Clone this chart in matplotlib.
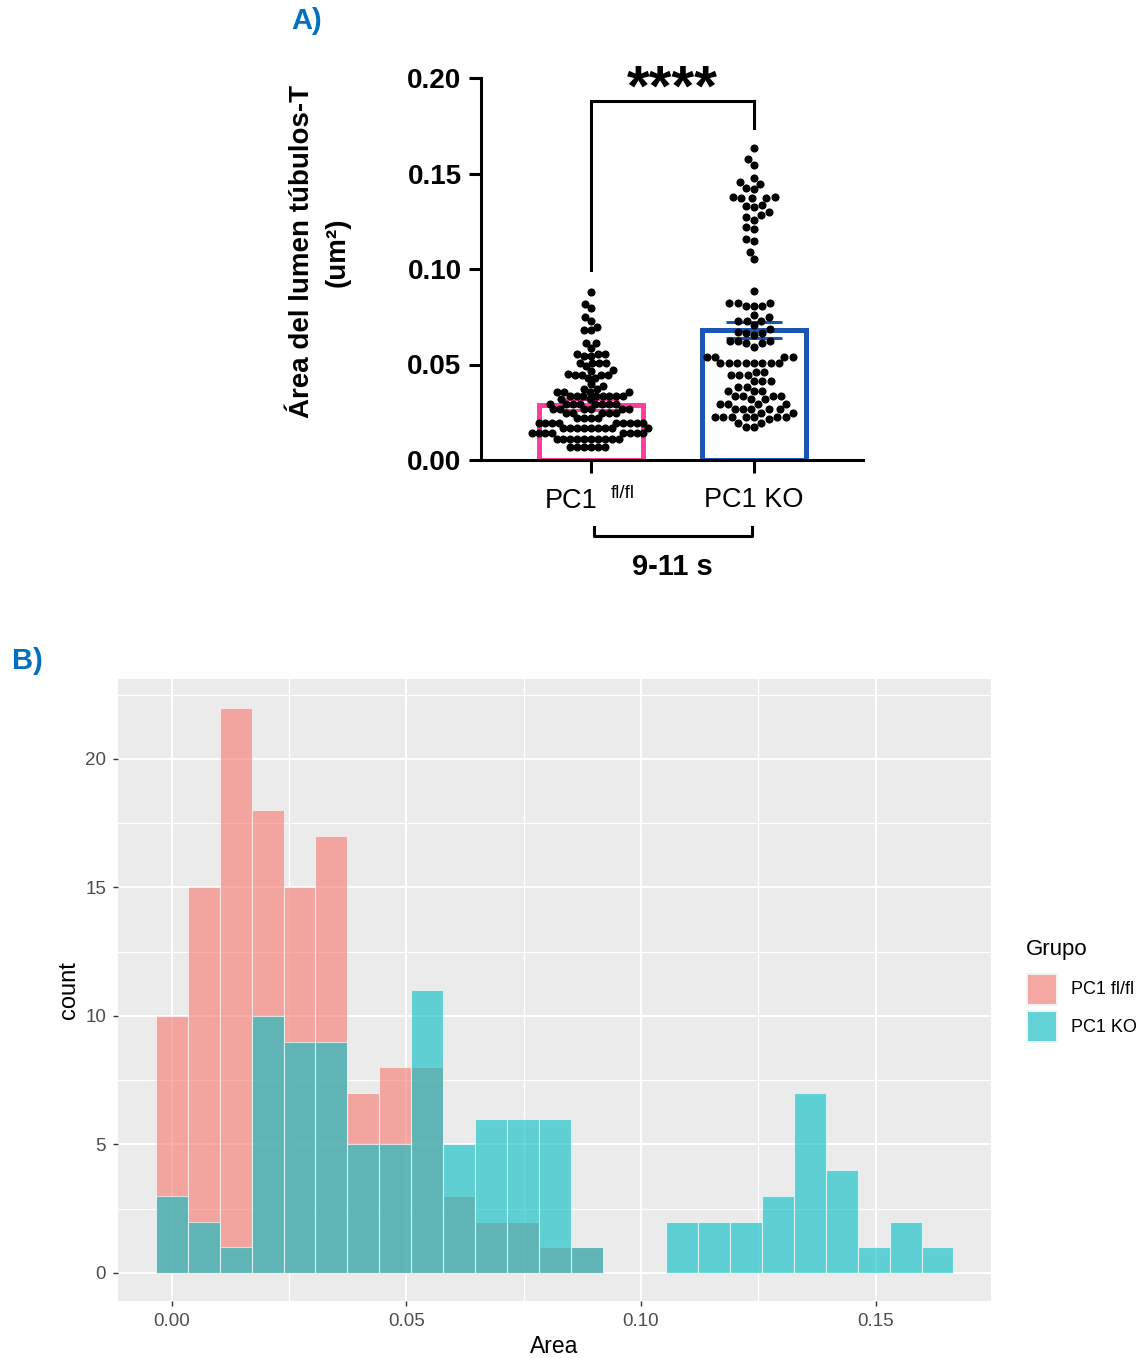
import numpy as np
import matplotlib
matplotlib.use("Agg")
import matplotlib.pyplot as plt
from matplotlib.patches import Rectangle
from matplotlib.lines import Line2D

plt.rcParams['font.family'] = ['Liberation Sans', 'DejaVu Sans']

# ---------------- Panel A data ----------------
groups_a = ["PC1 fl/fl", "PC1 KO"]
bar_means = [0.029, 0.068]
bar_sems = [0.003, 0.004]
bar_colors = ["#FF3EA0", "#1B56B4"]

# (value, count) pairs
fl_levels = [0.0878, 0.0815, 0.0798, 0.0747, 0.0728, 0.0695, 0.0681, 0.0611, 0.0585,
             0.0555, 0.0546, 0.0510, 0.0492, 0.0471, 0.0466, 0.0449, 0.0445, 0.0431,
             0.0398, 0.0387, 0.0372, 0.0358, 0.0335, 0.0318, 0.0295, 0.0265, 0.0248,
             0.0218, 0.0195, 0.0166, 0.0141, 0.0112, 0.0070]
fl_counts = [1, 1, 1, 1, 1, 1, 2, 2, 1,
             3, 2, 4, 1, 1, 1, 1, 4, 2,
             1, 1, 2, 4, 8, 2, 8, 6, 5,
             4, 9, 9, 8, 10, 6]

ko_levels = [0.1635, 0.1576, 0.1545, 0.1478, 0.1457, 0.1447, 0.1426, 0.1417, 0.1379,
             0.1373, 0.1370, 0.1335, 0.1332, 0.1327, 0.1297, 0.1283, 0.1272, 0.1257,
             0.1218, 0.1208, 0.1157, 0.1147, 0.1091, 0.1052,
             0.0885, 0.0820, 0.0806, 0.0759, 0.0750, 0.0729, 0.0707, 0.0684, 0.0672,
             0.0663, 0.0654, 0.0625, 0.0611, 0.0593, 0.0541, 0.0506, 0.0462, 0.0445,
             0.0415, 0.0384, 0.0363, 0.0335, 0.0318, 0.0293, 0.0265, 0.0244, 0.0223,
             0.0213, 0.0195, 0.0175]
ko_counts = [1, 1, 1, 1, 1, 1, 1, 1, 2,
             1, 2, 1, 1, 1, 1, 1, 1, 1,
             1, 1, 1, 1, 1, 1,
             1, 3, 3, 1, 1, 3, 1, 1, 1,
             2, 1, 3, 2, 1, 4, 8, 2, 3,
             3, 2, 3, 4, 2, 4, 5, 2, 7,
             1, 2, 2]

# ---------------- Panel B data ----------------
bin_width = 0.0068
fl_hist = [10, 15, 22, 18, 15, 17, 7, 8, 8, 3, 2, 2, 1, 1, 0, 0, 0, 0, 0, 0, 0, 0, 0, 0, 0]
ko_hist = [3, 2, 1, 10, 9, 9, 5, 5, 11, 5, 6, 6, 6, 1, 0, 0, 2, 2, 2, 3, 7, 4, 1, 2, 1]
hist_labels = ["PC1 fl/fl", "PC1 KO"]
hist_colors = ["#F8766D", "#00BFC4"]

W, H = 1140, 1358
fig = plt.figure(figsize=(W / 100, H / 100), dpi=100)

def fx(px):
    return px / W

def fy(py):
    return 1 - py / H

# ================= Panel A =================
axA = fig.add_axes([fx(481), fy(460), fx(863) - fx(481), fy(78) - fy(460)])
axA.set_ylim(0, 0.20)
axA.set_xlim(-0.675, 1.669)
for s in ["top", "right"]:
    axA.spines[s].set_visible(False)
for s in ["left", "bottom"]:
    axA.spines[s].set_linewidth(2.2)
axA.set_yticks([0, 0.05, 0.10, 0.15, 0.20])
axA.set_yticklabels(["0.00", "0.05", "0.10", "0.15", "0.20"], fontsize=20, fontweight="bold")
axA.tick_params(axis="y", length=9, width=2.2, pad=5)
axA.set_xticks([0, 1])
axA.set_xticklabels(["", ""])
axA.tick_params(axis="x", length=9, width=2.2)

xpos = [0, 1]
axA.bar(xpos, bar_means, width=0.64, facecolor="none", edgecolor=bar_colors,
        linewidth=3.6, zorder=2)
for x, m, s, c in zip(xpos, bar_means, bar_sems, bar_colors):
    axA.errorbar([x], [m], yerr=[s], color=c, capsize=20, elinewidth=2.2,
                 capthick=2.2, zorder=3)

# beeswarm layout in pixel units
fig.canvas.draw()
def swarm(values, center, d=8.0):
    ys = axA.transData.transform(np.column_stack([np.full(len(values), center), values]))[:, 1]
    order = np.argsort(ys)
    placed = []
    xs = np.zeros(len(values))
    for i in order:
        y = ys[i]
        intervals = []
        for (px, py) in placed:
            dy = abs(py - y)
            if dy < d:
                h = np.sqrt(d * d - dy * dy)
                intervals.append((px - h, px + h))
        cands = [0.0]
        for a, b in intervals:
            cands += [a, b]
        cands = sorted(cands, key=lambda c: (abs(c), c))
        for c in cands:
            ok = all(not (a + 1e-6 < c < b - 1e-6) for a, b in intervals)
            if ok:
                xs[i] = c
                break
        placed.append((xs[i], y))
    px_per_unit = axA.transData.transform([[1, 0]])[0, 0] - axA.transData.transform([[0, 0]])[0, 0]
    return center + xs / px_per_unit

fl_vals = np.repeat(fl_levels, fl_counts)
ko_vals = np.repeat(ko_levels, ko_counts)
axA.scatter(swarm(fl_vals, 0, d=6.9), fl_vals, s=34, color="black", zorder=4, linewidths=0)
axA.scatter(swarm(ko_vals, 1, d=8.4), ko_vals, s=34, color="black", zorder=4, linewidths=0)

# significance bracket
axA.plot([0, 0, 1, 1], [0.0995, 0.188, 0.188, 0.174], color="black", lw=2.2,
         clip_on=False, solid_joinstyle="miter", zorder=5)
axA.text(0.5, 0.1935, "****", ha="center", va="center", fontsize=42, fontweight="bold")

# x labels
fig.text(fx(571), fy(501), "PC1", ha="center", va="center", fontsize=19.5)
fig.text(fx(623), fy(494), "fl/fl", ha="center", va="center", fontsize=13.5)
fig.text(fx(754), fy(500), "PC1 KO", ha="center", va="center", fontsize=19.5)
fig.add_artist(Line2D([fx(594), fx(594), fx(752), fx(752)],
                      [fy(527), fy(536), fy(536), fy(527)], color="black", lw=2.2))
fig.text(fx(672), fy(567), "9-11 s", ha="center", va="center", fontsize=21, fontweight="bold")

# y label
fig.text(fx(302), fy(252), "Área del lumen túbulos-T", rotation=90, ha="center",
         va="center", fontsize=20, fontweight="bold")
fig.text(fx(338), fy(252), "(um²)", rotation=90, ha="center", va="center",
         fontsize=20, fontweight="bold")

fig.text(fx(307), fy(21), "A)", ha="center", va="center", fontsize=21,
         fontweight="bold", color="#0070C0")
fig.text(fx(27), fy(661), "B)", ha="center", va="center", fontsize=21,
         fontweight="bold", color="#0070C0")

# ================= Panel B =================
axB = fig.add_axes([fx(118), fy(1301), fx(991) - fx(118), fy(679) - fy(1301)])
axB.set_facecolor("#EBEBEB")
for s in axB.spines.values():
    s.set_visible(False)
axB.set_xlim(-0.0115, 0.1746)
axB.set_ylim(-1.09, 23.11)
axB.set_xticks([0, 0.05, 0.10, 0.15])
axB.set_xticklabels(["0.00", "0.05", "0.10", "0.15"])
axB.set_yticks([0, 5, 10, 15, 20])
axB.set_xticks([0.025, 0.075, 0.125], minor=True)
axB.set_yticks([2.5, 7.5, 12.5, 17.5, 22.5], minor=True)
axB.grid(which="major", color="white", lw=1.5)
axB.grid(which="minor", color="white", lw=0.9)
axB.set_axisbelow(True)
axB.tick_params(which="major", length=3.5, width=1.0, color="#333333",
                labelcolor="#4D4D4D", labelsize=13.5, pad=5)
axB.tick_params(which="minor", length=0)

centers = np.arange(len(fl_hist)) * bin_width
axB.bar(centers, fl_hist, width=bin_width, color=hist_colors[0], alpha=0.6,
        edgecolor=(1, 1, 1, 0.6), linewidth=0.8, zorder=2)
axB.bar(centers, ko_hist, width=bin_width, color=hist_colors[1], alpha=0.6,
        edgecolor=(1, 1, 1, 0.6), linewidth=0.8, zorder=3)
axB.set_xlabel("Area", fontsize=16.5, labelpad=4)
axB.set_ylabel("count", fontsize=17, labelpad=4)

# legend (ggplot style)
fig.text(fx(1026), fy(950), "Grupo", ha="left", va="center", fontsize=16)
key_tops = [973, 1010]
for top, lab, col in zip(key_tops, hist_labels, hist_colors):
    fig.add_artist(Rectangle((fx(1026), fy(top + 33)), fx(32), fy(0) - fy(33),
                             transform=fig.transFigure, facecolor="#F2F2F2",
                             edgecolor="none"))
    fig.add_artist(Rectangle((fx(1028), fy(top + 31)), fx(28), fy(0) - fy(29),
                             transform=fig.transFigure, facecolor=col, alpha=0.6,
                             edgecolor="none"))
    fig.text(fx(1071), fy(top + 17), lab, ha="left", va="center", fontsize=13)

fig.savefig("out.png", dpi=100)
